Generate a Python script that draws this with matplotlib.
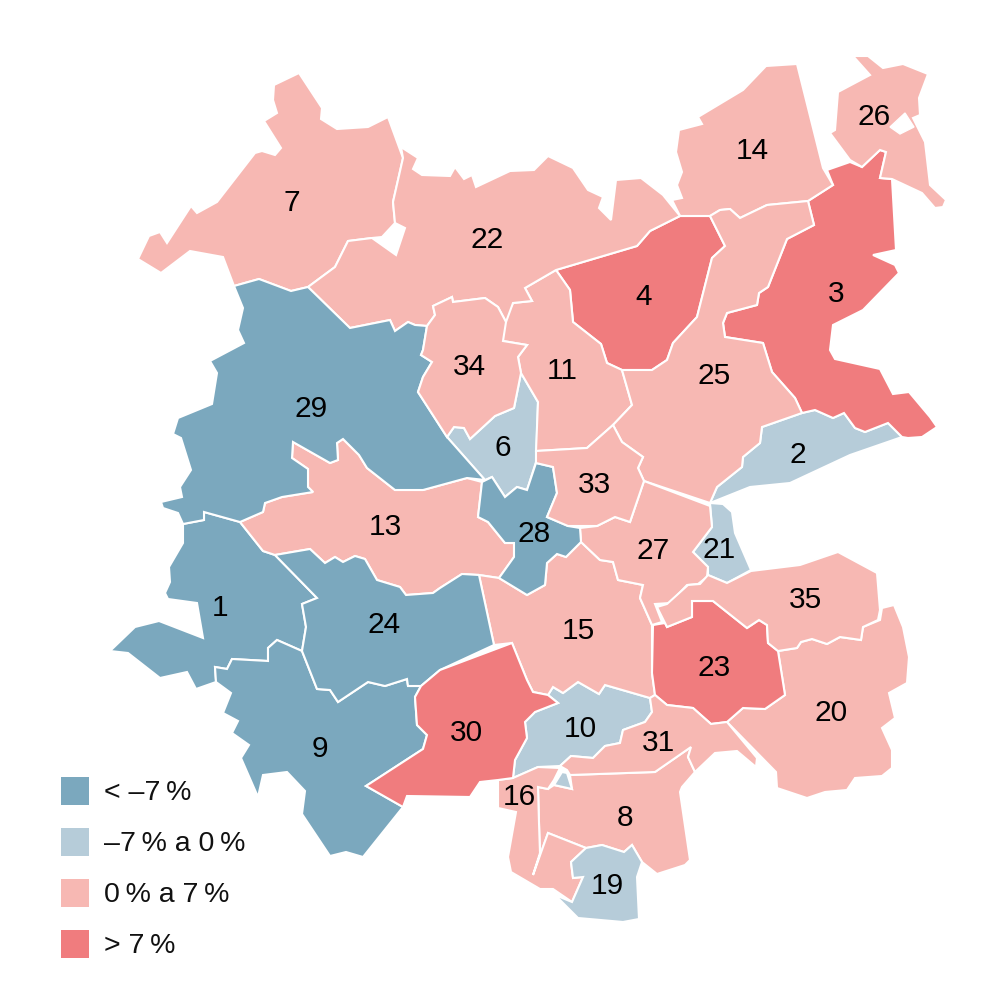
import matplotlib
matplotlib.use("Agg")
import matplotlib.pyplot as plt
from matplotlib.patches import Polygon, Rectangle

plt.rcParams['font.family'] = ['Liberation Sans', 'DejaVu Sans']

# Map outlines (pixel coordinates)
r1 = [(183,524),(204,520),(204,512),(240,522),(263,551),(275,555),(317,598),(302,604),(306,627),(302,651),(277,640),(268,648),(268,661),(232,659),(227,669),(215,667),(216,682),(196,689),(187,672),(160,678),(128,653),(110,651),(135,627),(159,621),(203,638),(197,603),(168,599),(165,593),(170,582),(169,567),(183,543)]
r2 = [(710,503),(717,487),(742,467),(743,457),(760,443),(762,427),(802,413),(815,410),(833,418),(844,413),(855,428),(865,432),(888,423),(902,437),(850,455),(790,483),(750,487)]
r3 = [(808,201),(833,185),(827,170),(850,162),(862,167),(880,150),(886,152),(880,178),(892,179),(896,250),(873,255),(895,265),(899,273),(863,310),(833,325),(830,350),(835,359),(880,369),(893,394),(909,392),(930,417),(937,427),(922,437),(908,438),(902,437),(888,423),(865,432),(855,428),(844,413),(833,418),(815,410),(802,413),(795,398),(772,372),(763,343),(725,337),(723,323),(727,313),(757,305),(759,293),(768,287),(787,239),(814,225)]
r4 = [(556,270),(637,246),(650,231),(680,216),(710,216),(725,246),(712,258),(697,317),(673,343),(667,360),(652,370),(622,370),(607,363),(601,344),(573,322),(570,290)]
r6 = [(447,437),(454,427),(464,428),(470,439),(495,416),(514,408),(521,373),(538,402),(536,462),(527,490),(517,487),(505,497),(492,477),(485,480)]
r7 = [(138,259),(149,236),(160,232),(167,243),(191,206),(197,213),(217,202),(255,153),(262,151),(275,155),(281,148),(264,121),(277,113),(273,100),(274,85),(299,73),(322,108),(321,119),(337,129),(368,127),(388,117),(403,158),(393,202),(395,223),(382,237),(372,238),(348,241),(335,267),(308,287),(291,291),(259,279),(234,286),(223,257),(190,251),(161,273)]
r8 = [(538,787),(548,789),(554,785),(572,789),(570,775),(655,772),(691,747),(688,757),(695,772),(682,787),(680,792),(690,860),(685,865),(657,874),(642,862),(632,845),(624,852),(602,845),(586,848),(548,833),(533,875),(540,853),(539,823)]
r9 = [(216,682),(215,667),(227,669),(232,659),(268,661),(268,648),(277,640),(302,651),(317,689),(330,690),(338,702),(368,682),(385,686),(407,679),(408,686),(421,686),(415,697),(417,725),(427,735),(423,749),(366,786),(403,807),(363,857),(346,852),(330,856),(302,814),(305,791),(287,772),(263,775),(258,797),(241,758),(249,745),(232,733),(238,721),(223,713),(231,693)]
r10 = [(548,695),(553,687),(563,693),(578,682),(599,694),(605,685),(650,698),(652,712),(645,722),(623,730),(620,743),(605,746),(593,758),(571,756),(560,766),(538,767),(513,778),(515,760),(527,738),(525,722),(535,712),(558,703)]
r10b = [(562,772),(567,773),(572,789),(554,785)]
r11 = [(503,322),(513,303),(532,301),(525,288),(556,270),(570,290),(573,322),(601,344),(607,363),(622,370),(632,405),(613,425),(587,448),(536,451),(538,402),(521,373),(518,357),(527,345),(503,341)]
r13 = [(240,522),(263,512),(265,503),(282,497),(313,492),(308,487),(308,469),(292,458),(293,442),(330,463),(338,460),(337,443),(343,439),(359,455),(367,468),(395,490),(423,490),(467,478),(482,482),(478,517),(488,522),(505,543),(514,543),(514,557),(499,578),(479,575),(462,574),(440,588),(433,593),(406,595),(400,587),(377,580),(365,559),(355,556),(343,562),(335,557),(325,563),(310,549),(275,555),(263,551)]
r14 = [(672,200),(682,198),(677,185),(682,172),(676,152),(679,130),(702,124),(698,117),(743,90),(766,66),(797,64),(823,168),(833,185),(808,201),(767,205),(740,218),(730,209),(720,210),(710,216),(680,216)]
r15 = [(479,575),(499,578),(527,595),(545,585),(547,563),(557,554),(566,557),(581,542),(600,560),(613,562),(618,580),(643,585),(640,598),(652,625),(652,673),(655,695),(650,698),(605,685),(599,694),(578,682),(563,693),(553,687),(548,695),(533,692),(527,680),(512,643),(494,645)]
r16 = [(498,780),(513,778),(538,767),(560,768),(554,780),(548,789),(538,787),(539,823),(540,853),(533,875),(548,833),(586,848),(571,862),(573,878),(583,877),(572,902),(553,889),(540,889),(511,872),(508,857),(516,812),(498,808)]
r19 = [(586,848),(602,845),(624,852),(632,845),(642,862),(637,877),(639,919),(623,922),(578,918),(555,895),(572,902),(583,877),(573,878),(571,862)]
r20 = [(778,651),(797,648),(801,642),(812,639),(827,644),(840,637),(861,640),(863,627),(880,620),(882,608),(894,605),(903,627),(909,657),(907,683),(889,693),(895,718),(882,728),(892,750),(892,768),(882,776),(855,778),(847,790),(825,792),(807,798),(777,788),(776,772),(727,722),(743,708),(765,709),(785,695)]
r21 = [(710,503),(723,504),(732,512),(735,533),(751,570),(727,583),(708,575),(708,567),(693,552),(712,527)]
r22 = [(401,147),(418,158),(413,169),(422,175),(450,176),(455,167),(464,179),(472,175),(476,187),(510,171),(534,170),(548,156),(573,168),(588,190),(603,197),(599,208),(611,220),(616,180),(641,178),(663,195),(680,216),(650,231),(637,246),(556,270),(525,288),(532,301),(513,303),(506,322),(498,307),(485,298),(453,302),(452,297),(433,306),(435,315),(427,326),(415,325),(408,322),(395,331),(390,320),(350,328),(308,287),(335,267),(348,241),(372,238),(396,255),(405,228),(395,223),(393,202),(403,158)]
r23 = [(653,625),(665,623),(667,627),(692,617),(692,601),(713,601),(747,628),(759,620),(767,625),(768,643),(778,651),(785,695),(765,709),(743,708),(727,722),(711,724),(693,708),(667,705),(655,695),(652,673)]
r24 = [(275,555),(310,549),(325,563),(335,557),(343,562),(355,556),(365,559),(377,580),(400,587),(406,595),(433,593),(440,588),(462,574),(479,575),(494,645),(440,670),(421,686),(408,686),(407,679),(385,686),(368,682),(338,702),(330,690),(317,689),(302,651),(306,627),(302,604),(317,598)]
r25 = [(710,216),(720,210),(730,209),(740,218),(767,205),(808,201),(814,225),(787,239),(768,287),(759,293),(757,305),(727,313),(723,323),(725,337),(763,343),(772,372),(795,398),(802,413),(762,427),(760,443),(743,457),(742,467),(717,487),(710,503),(644,481),(638,468),(643,457),(622,442),(613,425),(632,405),(622,370),(652,370),(667,360),(673,343),(697,317),(712,258),(725,246)]
r26 = [(853,56),(868,56),(883,68),(903,64),(928,74),(919,98),(920,115),(913,118),(925,142),(930,185),(946,200),(943,207),(935,208),(922,193),(892,179),(880,178),(886,152),(880,150),(862,167),(850,160),(830,133),(835,130),(838,92),(870,75)]
r26_hole = [(890,127),(905,113),(914,127),(900,134)]
r27 = [(644,481),(710,506),(712,527),(693,552),(708,567),(707,577),(698,584),(687,585),(670,603),(655,604),(662,622),(652,625),(640,598),(643,585),(618,580),(613,562),(600,560),(581,542),(580,528),(597,526),(615,517),(630,522)]
r28 = [(482,482),(492,477),(505,497),(517,487),(527,490),(536,463),(553,467),(557,493),(547,517),(568,526),(580,528),(581,542),(566,557),(557,554),(547,563),(545,585),(527,595),(499,578),(514,557),(514,543),(505,543),(488,522),(478,517)]
r29 = [(234,286),(259,279),(291,291),(308,287),(350,328),(390,320),(395,331),(408,322),(415,325),(427,326),(423,350),(421,355),(432,362),(423,377),(418,392),(447,437),(485,480),(467,478),(423,490),(395,490),(367,468),(359,455),(343,439),(337,443),(338,460),(330,463),(293,442),(292,458),(308,469),(308,487),(313,492),(282,497),(265,503),(263,512),(240,522),(204,512),(204,520),(183,524),(178,513),(163,508),(161,502),(182,497),(180,487),(191,470),(181,438),(173,434),(178,418),(212,404),(217,373),(210,361),(244,343),(238,330),(243,308)]
r30 = [(366,786),(423,749),(427,735),(417,725),(415,697),(421,686),(440,670),(512,643),(527,680),(533,692),(548,695),(558,703),(535,712),(525,722),(527,738),(515,760),(513,778),(498,780),(480,782),(470,797),(407,796),(403,807)]
r31 = [(650,698),(655,695),(667,705),(693,708),(711,724),(727,722),(757,758),(756,767),(737,751),(715,753),(695,772),(688,757),(691,747),(655,772),(570,775),(567,770),(560,766),(571,756),(593,758),(605,746),(620,743),(623,730),(645,722),(652,712)]
r33 = [(536,451),(587,448),(613,425),(622,442),(643,457),(638,468),(644,481),(630,522),(615,517),(597,526),(568,526),(547,517),(557,493),(553,467),(536,463)]
r34 = [(433,306),(452,297),(453,302),(485,298),(498,307),(506,322),(503,341),(527,345),(518,357),(521,373),(514,408),(495,416),(470,439),(464,428),(454,427),(447,437),(418,392),(423,377),(432,362),(421,355),(423,350),(427,326),(435,315)]
r35 = [(657,607),(667,604),(688,585),(700,584),(708,575),(727,583),(751,571),(800,565),(838,552),(877,573),(880,610),(878,620),(863,627),(861,640),(840,637),(827,644),(812,639),(801,642),(797,648),(778,651),(768,643),(767,625),(759,620),(747,628),(713,601),(692,601),(692,617),(667,627)]

# region number, outline, class, label position
region_ids = [1, 2, 3, 4, 6, 7, 8, 9, 10, 11, 13, 14, 15, 16, 19, 20, 21, 22, 23, 24, 25, 26, 27, 28, 29, 30, 31, 33, 34, 35]
outlines = [r1, r2, r3, r4, r6, r7, r8, r9, r10, r11, r13, r14, r15, r16, r19, r20, r21, r22, r23, r24, r25, r26, r27, r28, r29, r30, r31, r33, r34, r35]
classes = [0, 1, 3, 3, 1, 2, 2, 0, 1, 2, 2, 2, 2, 2, 1, 2, 1, 2, 3, 0, 2, 2, 2, 0, 0, 3, 2, 2, 2, 2]
label_pos = [(220,608),(798,455),(836,294),(644,297),(503,448),(292,203),(625,818),(320,749),(580,729),(562,371),(385,527),(752,151),(578,631),(519,797),(607,886),(831,713),(719,550),(487,240),(714,668),(384,625),(714,376),(874,117),(653,551),(534,534),(311,409),(466,733),(658,743),(594,485),(469,367),(805,600)]

legend_labels = ["< \u20137\u2009%", "\u20137\u2009% a 0\u2009%", "0\u2009% a 7\u2009%", "> 7\u2009%"]
colors = ['#7BA8BE', '#B6CCD9', '#F7B8B3', '#F07C7E']

fig = plt.figure(figsize=(10.05, 10.05), dpi=100)
ax = fig.add_axes([0, 0, 1, 1])
ax.set_xlim(0, 1005)
ax.set_ylim(1005, 0)
ax.axis('off')

for outline, c in zip(outlines, classes):
    ax.add_patch(Polygon(outline, closed=True, facecolor=colors[c], edgecolor='white', linewidth=1.5, joinstyle='miter'))
ax.add_patch(Polygon(r10b, closed=True, facecolor=colors[1], edgecolor='white', linewidth=1.5))
ax.add_patch(Polygon(r26_hole, closed=True, facecolor='white', edgecolor='white', linewidth=1))

for rid, (x, y) in zip(region_ids, label_pos):
    ax.text(x, y, str(rid), ha='center', va='center', fontsize=21.5, color='black')

# legend
legend_y = [777, 828, 879, 930]
for y, c, lab in zip(legend_y, colors, legend_labels):
    ax.add_patch(Rectangle((61, y), 28, 28, facecolor=c, edgecolor='none'))
    ax.text(104, y + 16, lab, ha='left', va='center', fontsize=20.5, color='#111111')

fig.savefig('out.png', dpi=100, facecolor='white')
